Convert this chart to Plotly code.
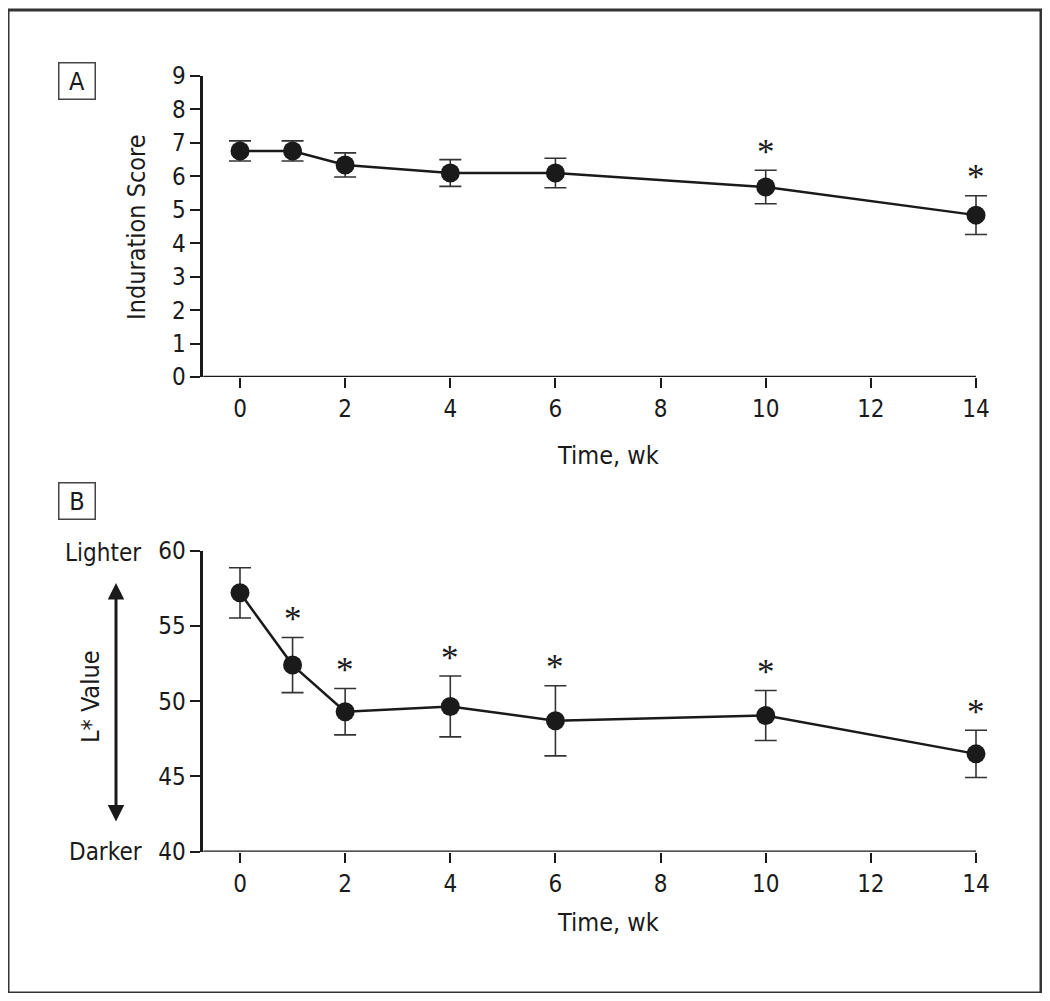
import plotly.graph_objects as go

# ---- data ----
weeks = [0, 1, 2, 4, 6, 10, 14]
induration_mean = [6.76, 6.76, 6.34, 6.10, 6.10, 5.68, 4.84]
induration_err = [0.30, 0.30, 0.36, 0.40, 0.44, 0.50, 0.58]
induration_sig = [False, False, False, False, False, True, True]

lvalue_mean = [57.2, 52.4, 49.3, 49.65, 48.7, 49.05, 46.5]
lvalue_err = [1.67, 1.83, 1.54, 2.02, 2.33, 1.66, 1.57]
lvalue_sig = [False, True, True, True, True, True, True]

x_ticks = [0, 2, 4, 6, 8, 10, 12, 14]
yA_ticks = [0, 1, 2, 3, 4, 5, 6, 7, 8, 9]
yB_ticks = [40, 45, 50, 55, 60]

# page body has an 8px margin; figure sized so it fits the 1050x1001 window
OFF = 8
W, H = 1050 - 2 * OFF, 1001 - 2 * OFF
FONT = "DejaVu Sans Condensed, Liberation Sans Narrow, Arial Narrow, sans-serif"
INK = "#1a1a1a"


def px(x):
    return (x - OFF) / W


def py(y):
    return 1 - (y - OFF) / H


XMIN, XAXIS_END, XMAX = -0.7, 14, 14.4
unit = (976 - 240) / 14.0
x_left = 240 + XMIN * unit
x_right = 240 + XMAX * unit

fig = go.Figure()

for mean, err, xa, ya in [
    (induration_mean, induration_err, "x", "y"),
    (lvalue_mean, lvalue_err, "x2", "y2"),
]:
    fig.add_trace(go.Scatter(
        x=weeks, y=mean, xaxis=xa, yaxis=ya,
        mode="lines+markers",
        line=dict(color=INK, width=2.5),
        marker=dict(color=INK, size=19),
        error_y=dict(type="data", array=err, visible=True,
                     color="#333333", thickness=1.6, width=11),
        cliponaxis=False,
        showlegend=False, hoverinfo="skip",
    ))

axis_common = dict(
    linewidth=2.5, linecolor=INK,
    ticks="outside", ticklen=10, tickwidth=2, tickcolor=INK,
    showgrid=False, zeroline=False,
    tickfont=dict(family=FONT, size=24, color=INK),
    automargin=False, fixedrange=True,
)

xdom = [px(x_left), px(x_right)]
fig.update_layout(
    width=W, height=H,
    margin=dict(l=0, r=0, t=0, b=0),
    paper_bgcolor="white", plot_bgcolor="white",
    xaxis=dict(domain=xdom, range=[XMIN, XMAX], tickvals=x_ticks, showline=False,
               anchor="y", **axis_common),
    yaxis=dict(domain=[py(377), py(76)], range=[0, 9], tickvals=yA_ticks, showline=True,
               anchor="x", **axis_common),
    xaxis2=dict(domain=xdom, range=[XMIN, XMAX], tickvals=x_ticks, showline=False,
                anchor="y2", **axis_common),
    yaxis2=dict(domain=[py(851.7), py(550.7)], range=[40, 60], tickvals=yB_ticks, showline=True,
                anchor="x2", **axis_common),
)

# bottom axis lines ending at the last tick
for xr, yr, y0 in [("x", "y", 0), ("x2", "y2", 40)]:
    fig.add_shape(type="line", xref=xr, yref=yr, x0=XMIN, x1=XAXIS_END, y0=y0, y1=y0,
                  line=dict(color=INK, width=2.5), layer="above")

ann = []
# significance asterisks
for mean, err, sig, xr, yr in [
    (induration_mean, induration_err, induration_sig, "x", "y"),
    (lvalue_mean, lvalue_err, lvalue_sig, "x2", "y2"),
]:
    for xv, m, e, s in zip(weeks, mean, err, sig):
        if s:
            ann.append(dict(x=xv, y=m + e, xref=xr, yref=yr, text="*",
                            showarrow=False, yanchor="middle", yshift=18,
                            font=dict(family="Liberation Serif, serif", size=35, color=INK)))

tfont = dict(family=FONT, size=25, color=INK)
sfont = dict(family=FONT, size=24, color=INK)
# axis titles
ann.append(dict(x=7, y=py(455), xref="x", yref="paper", text="Time, wk",
                showarrow=False, font=tfont, xanchor="center", yanchor="middle"))
ann.append(dict(x=7, y=py(922), xref="x2", yref="paper", text="Time, wk",
                showarrow=False, font=tfont, xanchor="center", yanchor="middle"))
ann.append(dict(x=px(137), y=py(227), xref="paper", yref="paper", text="Induration Score",
                showarrow=False, font=tfont, textangle=-90, xanchor="center", yanchor="middle"))
ann.append(dict(x=px(90), y=py(697), xref="paper", yref="paper", text="L* Value",
                showarrow=False, font=tfont, textangle=-90, xanchor="center", yanchor="middle"))
ann.append(dict(x=px(103), y=py(553), xref="paper", yref="paper", text="Lighter",
                showarrow=False, font=sfont, xanchor="center", yanchor="middle"))
ann.append(dict(x=px(105), y=py(852), xref="paper", yref="paper", text="Darker",
                showarrow=False, font=sfont, xanchor="center", yanchor="middle"))
# double arrow
ann.append(dict(x=px(116), y=py(583), xref="paper", yref="paper", text="",
                showarrow=True, ax=0, ay=240, arrowhead=2, arrowside="end+start",
                arrowwidth=3, arrowsize=1.1, arrowcolor=INK))
# panel labels
for lab, yc in [("A", 80.5), ("B", 500.5)]:
    ann.append(dict(x=px(77), y=py(yc), xref="paper", yref="paper", text=lab,
                    showarrow=False, font=dict(family=FONT, size=25, color=INK),
                    bordercolor="#444444", borderwidth=1.5, borderpad=1,
                    width=33, height=33, xanchor="center", yanchor="middle"))

fig.update_layout(annotations=ann)

# outer frame
fig.add_shape(type="rect", xref="paper", yref="paper",
              x0=px(8), x1=px(1041), y0=py(993), y1=py(10),
              line=dict(color="#333333", width=3))

fig.write_html("out.html")
